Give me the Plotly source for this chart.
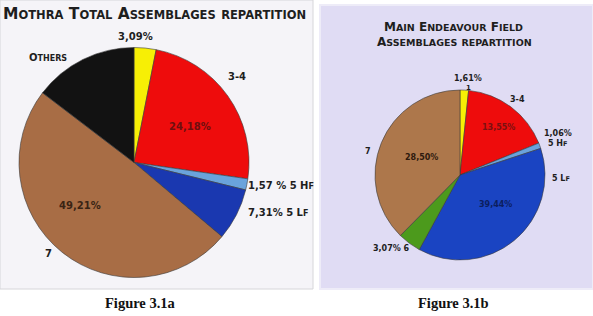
import plotly.graph_objects as go

W, H = 593, 316

# ---------------- data ----------------
mothra_labels = ["1", "3-4", "5 HF", "5 LF", "7", "Others"]
mothra_values = [3.09, 24.18, 1.57, 7.31, 49.21, 14.64]
mothra_text = ["3,09%", "24,18%", "1,57 %", "7,31%", "49,21%", ""]
mothra_colors = ["#f7ef05", "#ee0c0c", "#6aa3dc", "#1a38b0", "#a86d45", "#121212"]

endeavour_labels = ["1", "3-4", "5 HF", "5 LF", "6", "7"]
endeavour_values = [1.61, 17.2, 1.06, 37.9, 4.4, 37.5]
endeavour_text = ["1,61%", "13,55%", "1,06%", "39,44%", "3,07%", "28,50%"]
endeavour_colors = ["#f7ef05", "#ee0c0c", "#6aa3dc", "#1a44c2", "#4c9a1c", "#ad774b"]

titles = ["Mothra Total Assemblages repartition",
          "Main Endeavour Field", "Assemblages repartition"]
captions = ["Figure 3.1a", "Figure 3.1b"]

SANS = "DejaVu Sans"
SERIF = "Liberation Serif"


def px(x, y):
    return x / W, 1 - y / H


def sc(s, small):
    """small-caps emulation: lowercase letters become smaller capitals"""
    out, buf = "", ""
    for ch in s:
        if ch.islower():
            buf += ch.upper()
        else:
            if buf:
                out += f"<span style='font-size:{small}px'>{buf}</span>"
                buf = ""
            out += ch
    if buf:
        out += f"<span style='font-size:{small}px'>{buf}</span>"
    return out


def dom(cx, cy, r):
    x0, y0 = px(cx - r, cy + r)
    x1, y1 = px(cx + r, cy - r)
    return dict(x=[x0, x1], y=[y0, y1])


fig = go.Figure()
fig.add_trace(go.Pie(labels=mothra_labels, values=mothra_values, sort=False,
                     direction="clockwise", rotation=0, textinfo="none",
                     marker=dict(colors=mothra_colors, line=dict(color="#3a3a3a", width=0.6)),
                     domain=dom(134, 162.5, 115), showlegend=False, hoverinfo="label+percent"))
fig.add_trace(go.Pie(labels=endeavour_labels, values=endeavour_values, sort=False,
                     direction="clockwise", rotation=0, textinfo="none",
                     marker=dict(colors=endeavour_colors, line=dict(color="#3a3a3a", width=0.6)),
                     domain=dom(460, 175, 85), showlegend=False, hoverinfo="label+percent"))

shapes = [
    dict(type="rect", xref="paper", yref="paper", layer="below",
         x0=0, x1=313 / W, y0=1 - 289 / H, y1=1,
         fillcolor="#f5f4f8", line=dict(color="#d6d6da", width=1)),
    dict(type="rect", xref="paper", yref="paper", layer="below",
         x0=320 / W, x1=1, y0=1 - 289 / H, y1=1 - 5 / H,
         fillcolor="#e0dcf4", line=dict(color="#eeecf8", width=2)),
]

ann = []


def add(text, x, y, size, color="#1e1e1e", family=SANS, bold=True, xanchor="center"):
    ax, ay = px(x, y)
    ann.append(dict(text=text, x=ax, y=ay, xref="paper", yref="paper",
                    xanchor=xanchor, yanchor="middle", showarrow=False,
                    font=dict(family=family, size=size, color=color,
                              weight="bold" if bold else "normal")))


# titles
add(sc(titles[0], 11.5), 1, 14, 15.5, xanchor="left")
add(sc(titles[1], 9.5), 453, 27, 12)
add(sc(titles[2], 9.5), 454, 42, 12)

# Mothra labels
add(mothra_text[0], 135, 37, 10)
add(sc("Others", 8), 48, 58, 10)
add(mothra_labels[1], 237, 77, 10)
add(mothra_text[1], 190, 127, 10, color="#6e0f0f")
add(mothra_text[2] + " " + sc("5 Hf", 8), 246, 185, 10, xanchor="left")
add(mothra_text[3] + " " + sc("5 Lf", 8), 246, 212, 10, xanchor="left")
add(mothra_text[4], 80, 205, 10, color="#3a2414")
add(mothra_labels[4], 48, 253, 10)

# Endeavour labels
add(endeavour_text[0], 468, 78, 8)
add(endeavour_labels[0], 468, 88, 7)
add(endeavour_labels[1], 517, 99, 8)
add(endeavour_text[1], 498, 128, 8, color="#7a1010")
add(endeavour_text[2], 558, 133, 8)
add(sc("5 Hf", 6.5), 558, 143, 8)
add(sc("5 Lf", 6.5), 561, 178, 8)
add(endeavour_labels[5], 368, 151, 8)
add(endeavour_text[5], 422, 157, 8, color="#2e1a0e")
add(endeavour_text[3], 495, 204, 8, color="#0c1e5e")
add(endeavour_text[4] + " " + endeavour_labels[4], 392, 248, 8)

# captions
add(captions[0], 140, 303, 14.5, color="#111111", family=SERIF)
add(captions[1], 453, 303, 14.5, color="#111111", family=SERIF)

fig.update_layout(width=W, height=H, margin=dict(l=0, r=0, t=0, b=0),
                  paper_bgcolor="white", plot_bgcolor="white",
                  shapes=shapes, annotations=ann)

fig.write_html("out.html")
